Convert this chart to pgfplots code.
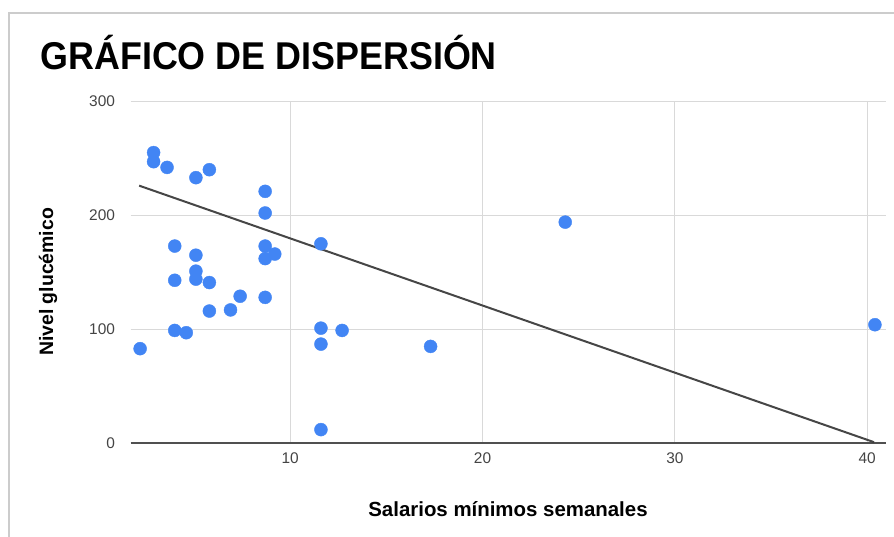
\documentclass[border=0pt]{standalone}
\usepackage{pgfplots}
\pgfplotsset{compat=1.18}
\usepackage{fontspec}
\setmainfont{Liberation Sans}
\definecolor{dotblue}{HTML}{4285F4}
\definecolor{gridgray}{HTML}{D9D9D9}
\definecolor{ticktxt}{HTML}{444444}
\definecolor{trend}{HTML}{3C3C3C}
\definecolor{framegray}{HTML}{CCCCCC}

\begin{document}
\begin{tikzpicture}[x=1bp,y=1bp]
  % canvas 894 x 537 px, y measured from the bottom
  \useasboundingbox (0,0) rectangle (894,537);
  \draw[framegray, line width=1.2bp] (9,0) -- (9,524) -- (894,524);
  \node[anchor=base west, font=\bfseries\fontsize{36}{40}\selectfont, yscale=1.08] at (37,467) {GRÁFICO DE DISPERSIÓN};

  \begin{axis}[
      at={(130.5bp,93.7bp)}, anchor=south west,
      width=755bp, height=342bp, scale only axis,
      xmin=1.7, xmax=40.95, ymin=0, ymax=300,
      xtick={10,20,30,40}, ytick={0,100,200,300},
      grid=major,
      major grid style={gridgray, line width=1bp},
      axis line style={draw=none},
      tick style={draw=none},
      ticklabel style={font=\fontsize{15.5}{17}\selectfont, text=ticktxt},
      /pgf/number format/assume math mode=true,
      xticklabel style={yshift=-6bp},
      yticklabel style={xshift=-12bp},
      clip=false,
    ]
    \draw[trend!90!white, line width=1.6bp] (axis cs:1.7,0) -- (axis cs:40.95,0);
    \addplot[trend, line width=2bp, opacity=0.95] coordinates {(2.15,226) (40.35,1)};
    \addplot[only marks, dotblue, mark=*, mark size=6.5bp, mark options={fill=dotblue, draw=dotblue}]
      coordinates {
        (2.2,83) (2.9,255) (2.9,247) (3.6,242) (4.0,173) (4.0,143) (4.0,99)
        (4.6,97) (5.1,233) (5.1,165) (5.1,151) (5.1,144) (5.8,240) (5.8,141)
        (5.8,116) (6.9,117) (7.4,129) (8.7,221) (8.7,202) (8.7,173) (8.7,162)
        (8.7,128) (9.2,166) (11.6,175) (11.6,101) (11.6,87) (11.6,12)
        (12.7,99) (17.3,85) (24.3,194) (40.4,104)
      };
  \end{axis}

  \node[font=\bfseries\fontsize{20.5}{22}\selectfont] at (508,28) {Salarios mínimos semanales};
  \node[font=\bfseries\fontsize{19.5}{22}\selectfont, rotate=90] at (48,255) {Nivel glucémico};
\end{tikzpicture}
\end{document}
